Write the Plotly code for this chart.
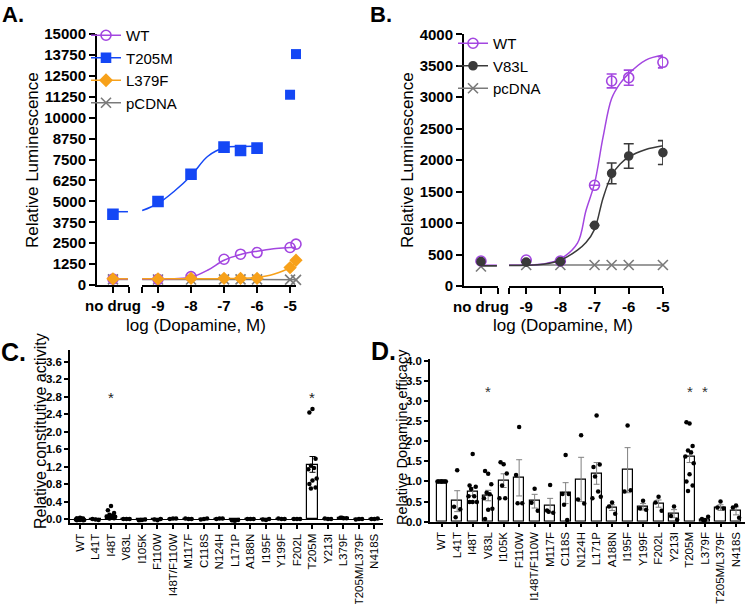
import plotly.graph_objects as go

W, H = 745, 604
def fx(px): return px / W
def fy(py): return 1 - py / H

FONT = "Liberation Sans, Arial, sans-serif"
PURPLE = "#A346E0"
BLUE = "#1447F5"
ORANGE = "#F7A11A"
GRAY = "#7A7A7A"
DARK = "#3A3A3A"

# ---------------- Panel A data ----------------
A_conc = [-9, -8, -7, -6.5, -6, -5, -4.82]
A_wt = [340, 500, 1540, 1840, 1940, 2240, 2440]
A_t205m = [4990, 6620, 8240, 8040, 8180, 11370, 13800]
A_l379f = [360, 400, 400, 400, 400, 1040, 1480]
A_pcdna = [330, 330, 340, 340, 340, 320, 310]
A_nd_wt, A_nd_t205m, A_nd_l379f, A_nd_pcdna = 360, 4230, 370, 340
A_base_wt, A_base_t205m, A_base_l379f, A_base_pcdna = 360, 4380, 370, 330
A_fit_wt_x = [-9.48, -9, -8.5, -8, -7.5, -7, -6.5, -6, -5.5, -5, -4.82]
A_fit_wt_y = [360, 360, 375, 460, 880, 1480, 1820, 2020, 2170, 2240, 2260]
A_fit_t205m_x = [-9.48, -9, -8.5, -8, -7.5, -7, -6.5, -5.9]
A_fit_t205m_y = [4450, 4870, 5620, 6530, 7680, 8200, 8280, 8290]
A_fit_l379f_x = [-9.48, -8, -7, -6.5, -6, -5.5, -5, -4.82]
A_fit_l379f_y = [370, 375, 380, 395, 450, 640, 1050, 1420]
A_fit_pcdna_x = [-9.48, -4.82]
A_fit_pcdna_y = [330, 320]
A_xticks = [-9, -8, -7, -6, -5]

# ---------------- Panel B data ----------------
B_conc = [-9, -8, -7, -6.5, -6, -5]
B_wt = [413, 397, 1600, 3258, 3311, 3555]
B_wt_err = [None, None, None, 110, 120, 88]
B_v83l = [380, 387, 964, 1790, 2066, 2120]
B_v83l_err = [None, None, None, 165, 195, 190]
B_pcdna = [334, 334, 334, 334, 334, 334]
B_nd_wt, B_nd_v83l, B_nd_pcdna = 397, 387, 310
B_base_wt, B_base_v83l, B_base_pcdna = 330, 322, 318
B_fit_wt_x = [-9.5, -9, -8.5, -8, -7.5, -7.25, -7, -6.75, -6.5, -6.25, -6, -5.5, -5]
B_fit_wt_y = [330, 333, 350, 430, 680, 1200, 1630, 2370, 2980, 3220, 3375, 3590, 3670]
B_fit_v83l_x = [-9.5, -9, -8.5, -8, -7.5, -7.25, -7, -6.75, -6.5, -6.25, -6, -5.5, -5]
B_fit_v83l_y = [325, 328, 345, 410, 570, 690, 900, 1400, 1760, 1940, 2050, 2170, 2230]
B_fit_pcdna_x = [-9.5, -5]
B_fit_pcdna_y = [334, 334]
B_xticks = [-9, -8, -7, -6, -5]

# ---------------- Panel C data ----------------
C_cats = ["WT", "L41T", "I48T", "V83L", "I105K", "F110W", "I48T/F110W", "M117F", "C118S",
          "N124H", "L171P", "A188N", "I195F", "Y199F", "F202L", "T205M", "Y213I", "L379F",
          "T205M/L379F", "N418S"]
C_mean = [0.0, -0.01, 0.07, 0.0, -0.02, -0.01, 0.01, 0.0, 0.0, 0.01, -0.03, 0.0, -0.01, 0.0,
          0.0, 1.25, 0.0, 0.02, 0.0, 0.0]
C_sem = [0.005, 0.01, 0.03, None, 0.01, 0.01, None, None, None, None, 0.01, None, 0.01, None,
         None, 0.18, None, 0.01, None, None]
C_points = [
    [0.03, 0.02, 0.01, 0.0, 0.0, -0.01, -0.02, -0.02, -0.03, -0.03, -0.01, 0.01],
    [-0.01, 0.0, -0.02],
    [0.30, 0.20, 0.14, 0.10, 0.08, 0.06, 0.05, 0.04, 0.03, 0.02, 0.01],
    [0.0, 0.0, 0.0],
    [-0.02, -0.03, -0.01, -0.02],
    [-0.03, -0.01, 0.0],
    [0.01, 0.0, 0.01],
    [0.0, 0.01, 0.0],
    [0.0, -0.01, 0.01],
    [0.01, 0.0, 0.01],
    [-0.04, -0.03, -0.02, -0.03],
    [0.0, 0.0, 0.0],
    [-0.02, -0.01, 0.0],
    [0.0, 0.01, 0.0],
    [0.0, 0.0, 0.0],
    [2.52, 2.44, 1.38, 1.22, 1.17, 1.14, 0.93, 0.88, 0.80, 0.72, 0.70],
    [0.0, 0.01, 0.0],
    [0.02, 0.03, 0.02, 0.03],
    [0.0, -0.01, 0.0],
    [0.0, 0.0, 0.01],
]
C_star_cats = [2, 15]
C_star_y = 2.84

# ---------------- Panel D data ----------------
D_cats = ["WT", "L41T", "I48T", "V83L", "I105K", "F110W", "I148T/F110W", "M117F", "C118S",
          "N124H", "L171P", "A188N", "I195F", "Y199F", "F202L", "Y213I", "T205M", "L379F",
          "T205M/L379F", "N418S"]
D_mean = [1.0, 0.51, 0.75, 0.65, 1.02, 1.09, 0.51, 0.40, 0.71, 1.05, 1.20, 0.35, 1.28, 0.37,
          0.45, 0.20, 1.62, 0.04, 0.35, 0.27]
D_sem = [None, 0.26, 0.10, 0.13, 0.17, 0.45, 0.17, 0.18, 0.26, 0.55, 0.27, 0.07, 0.56, 0.08,
         0.09, 0.10, 0.15, 0.02, 0.07, 0.10]
D_points = [
    [1.0, 1.0, 1.0, 1.0, 1.0, 1.0, 1.0, 1.0],
    [1.28, 0.37, 0.31, 0.11],
    [1.68, 0.90, 0.87, 0.81, 0.63, 0.63, 0.49, 0.49, 0.49],
    [1.19, 1.26, 0.93, 0.72, 0.68, 0.58, 0.32, 0.30, 0.07],
    [1.43, 1.48, 1.20, 0.90, 0.58, 0.58],
    [2.35, 1.16, 0.46, 0.46],
    [0.82, 0.47, 0.27],
    [0.91, 0.28, 0.22, 0.25],
    [1.66, 0.69, 0.69, 0.42, 0.04],
    [2.15, 0.55, 0.45],
    [2.64, 1.36, 1.42, 1.12, 0.75, 0.58, 0.62],
    [0.48, 0.38, 0.20],
    [2.39, 0.75, 0.78],
    [0.52, 0.33, 0.30],
    [0.62, 0.48, 0.27],
    [0.38, 0.14, 0.05],
    [2.44, 2.47, 1.88, 1.77, 1.72, 1.62, 1.45, 1.18, 1.00, 0.90, 0.76],
    [0.04, 0.07, 0.12, 0.03],
    [0.50, 0.35, 0.33],
    [0.40, 0.35, 0.10],
]
D_star_cats = [3, 16, 17]
D_star_y = 3.3

# ---------------- figure ----------------
fig = go.Figure()
ND_LINE_X = [0, 0.47]


def legend_entry(name, color, symbol, size, legend, xa, ya):
    fig.add_trace(go.Scatter(
        x=[None], y=[None], xaxis=xa, yaxis=ya, mode="lines+markers", name=name,
        line=dict(color=color, width=1.5),
        marker=dict(symbol=symbol, size=size, color=color, line=dict(color=color, width=1.6)),
        legend=legend, showlegend=True))


def add_series(xl, xr, ya, conc, vals, nd, fitx, fity, base, color, symbol, size,
               err=None, errcolor=None):
    fig.add_trace(go.Scatter(x=fitx, y=fity, xaxis=xr, yaxis=ya, mode="lines",
                             line=dict(color=color, width=1.5, shape="spline", smoothing=1.0),
                             showlegend=False, cliponaxis=False, hoverinfo="skip"))
    fig.add_trace(go.Scatter(x=ND_LINE_X, y=[base, base], xaxis=xl, yaxis=ya, mode="lines",
                             line=dict(color=color, width=1.5), showlegend=False,
                             cliponaxis=False, hoverinfo="skip"))
    mk = dict(symbol=symbol, size=size, color=color, line=dict(color=color, width=1.6))
    ey = None
    if err is not None:
        ey = dict(type="data", array=err, color=errcolor or color, thickness=1.6, width=5)
    fig.add_trace(go.Scatter(x=conc, y=vals, xaxis=xr, yaxis=ya, mode="markers", marker=mk,
                             error_y=ey, showlegend=False, cliponaxis=False))
    fig.add_trace(go.Scatter(x=[0], y=[nd], xaxis=xl, yaxis=ya, mode="markers", marker=mk,
                             showlegend=False, cliponaxis=False))


# legend entries A
legend_entry("WT", PURPLE, "circle-open", 10, "legend", "x2", "y")
legend_entry("T205M", BLUE, "square", 9, "legend", "x2", "y")
legend_entry("L379F", ORANGE, "diamond", 9, "legend", "x2", "y")
legend_entry("pCDNA", GRAY, "x-thin-open", 10, "legend", "x2", "y")
# legend entries B
legend_entry("WT", PURPLE, "circle-open", 10, "legend2", "x4", "y2")
legend_entry("V83L", DARK, "circle", 8, "legend2", "x4", "y2")
legend_entry("pcDNA", GRAY, "x-thin-open", 10, "legend2", "x4", "y2")

# Panel A series
add_series("x", "x2", "y", A_conc, A_pcdna, A_nd_pcdna, A_fit_pcdna_x, A_fit_pcdna_y,
           A_base_pcdna, GRAY, "x-thin-open", 10)
add_series("x", "x2", "y", A_conc, A_wt, A_nd_wt, A_fit_wt_x, A_fit_wt_y,
           A_base_wt, PURPLE, "circle-open", 10)
add_series("x", "x2", "y", A_conc, A_l379f, A_nd_l379f, A_fit_l379f_x, A_fit_l379f_y,
           A_base_l379f, ORANGE, "diamond", 8.5)
add_series("x", "x2", "y", A_conc[:5], A_t205m[:5], A_nd_t205m, A_fit_t205m_x, A_fit_t205m_y,
           A_base_t205m, BLUE, "square", 10)
fig.add_trace(go.Scatter(x=A_conc[5:], y=A_t205m[5:], xaxis="x2", yaxis="y", mode="markers",
                         marker=dict(symbol="square", size=10, color=BLUE), showlegend=False,
                         cliponaxis=False))

# Panel B series
add_series("x3", "x4", "y2", B_conc, B_pcdna, B_nd_pcdna, B_fit_pcdna_x, B_fit_pcdna_y,
           B_base_pcdna, GRAY, "x-thin-open", 10)
add_series("x3", "x4", "y2", B_conc, B_wt, B_nd_wt, B_fit_wt_x, B_fit_wt_y,
           B_base_wt, PURPLE, "circle-open", 10, err=B_wt_err)
add_series("x3", "x4", "y2", B_conc, B_v83l, B_nd_v83l, B_fit_v83l_x, B_fit_v83l_y,
           B_base_v83l, DARK, "circle", 8, err=B_v83l_err)

# Panels C and D
JIT = [0.0, -0.2, 0.2, -0.1, 0.1, -0.27, 0.27]


def jitter(points):
    xs, ys = [], []
    for i, pts in enumerate(points):
        for j, v in enumerate(pts):
            xs.append(i + JIT[j % len(JIT)])
            ys.append(v)
    return xs, ys


for cats, means, sems, pts, xa, ya, ecol in [
        (C_cats, C_mean, C_sem, C_points, "x5", "y3", "black"),
        (D_cats, D_mean, D_sem, D_points, "x6", "y4", "#808080")]:
    idx = list(range(len(cats)))
    fig.add_trace(go.Bar(x=idx, y=means, xaxis=xa, yaxis=ya, width=0.65,
                         marker=dict(color="white", line=dict(color="black", width=1.2)),
                         error_y=dict(type="data", array=sems, color=ecol, thickness=1, width=3),
                         showlegend=False))
    jx, jy = jitter(pts)
    fig.add_trace(go.Scatter(x=jx, y=jy, xaxis=xa, yaxis=ya, mode="markers",
                             marker=dict(symbol="circle", size=4.5, color="black"),
                             showlegend=False, cliponaxis=False))

# ---------------- axes ----------------
def axstyle(size=15, bold=True, lw=2):
    return dict(showline=True, linecolor="black", linewidth=lw, ticks="outside", ticklen=6,
                tickwidth=lw, tickcolor="black", showgrid=False, zeroline=False,
                automargin=False,
                tickfont=dict(family=FONT, size=size, color="black",
                              weight="bold" if bold else "normal"))

layout_axes = dict(
    xaxis=dict(domain=[fx(97), fx(129)], range=[-0.5, 0.503], anchor="y",
               tickvals=[0, 0.5], ticktext=["no drug", ""], **axstyle()),
    xaxis2=dict(domain=[fx(142), fx(296)], range=[-9.485, -4.82], anchor="y",
                tickvals=[-9.485] + A_xticks, ticktext=[""] + [str(v) for v in A_xticks],
                **axstyle()),
    yaxis=dict(domain=[fy(285), fy(34)], range=[0, 15000], anchor="x", tick0=0, dtick=1250,
               tickformat="d", **axstyle()),
    xaxis3=dict(domain=[fx(464), fx(498)], range=[-0.5, 0.503], anchor="y2",
                tickvals=[0, 0.5], ticktext=["no drug", ""], **axstyle()),
    xaxis4=dict(domain=[fx(509), fx(663)], range=[-9.503, -4.997], anchor="y2",
                tickvals=[-9.5] + B_xticks, ticktext=[""] + [str(v) for v in B_xticks],
                **axstyle()),
    yaxis2=dict(domain=[fy(286), fy(34.3)], range=[0, 4000], anchor="x3", tick0=0, dtick=500,
                tickformat="d", **axstyle()),
)
cx = axstyle(size=11.5, bold=False, lw=1.5)
cx.update(ticklen=4)
cy = axstyle(size=11.5, bold=True, lw=1.5)
cy.update(ticklen=4)
layout_axes.update(
    xaxis5=dict(domain=[fx(70), fx(383)], range=[-0.645, 19.55], anchor="y3",
                tickvals=list(range(len(C_cats))), ticktext=C_cats, tickangle=-90, **cx),
    yaxis3=dict(domain=[fy(523.4), fy(349.9)], range=[-0.1, 3.87], anchor="x5", tick0=0,
                dtick=0.4, tickformat=".1f", **cy),
    xaxis6=dict(domain=[fx(430), fx(745)], range=[-0.755, 19.58], anchor="y4",
                tickvals=list(range(len(D_cats))), ticktext=D_cats, tickangle=-90, **cx),
    yaxis4=dict(domain=[fy(521.7), fy(358.7)], range=[0, 4.05], anchor="x6", tick0=0,
                dtick=0.5, tickformat=".1f", **cy),
)
layout_axes["yaxis3"].update(zeroline=True, zerolinecolor="black", zerolinewidth=1.2)

# ---------------- annotations ----------------
ann = []
def txt(x, y, s, size, bold=False, angle=0, xanchor="center", color="black"):
    ann.append(dict(x=fx(x), y=fy(y), xref="paper", yref="paper", text=s, showarrow=False,
                    textangle=angle, xanchor=xanchor, yanchor="middle",
                    font=dict(family=FONT, size=size, color=color,
                              weight="bold" if bold else "normal")))

txt(0, 15, "A.", 22, bold=True, xanchor="left")
txt(368, 15, "B.", 22, bold=True, xanchor="left")
txt(-1, 352, "C.", 25, bold=True, xanchor="left")
txt(369, 351, "D.", 25, bold=True, xanchor="left")
txt(32, 160, "Relative Luminescence", 17, angle=-90)
txt(407, 160, "Relative Luminescence", 17, angle=-90)
txt(196, 325, "log (Dopamine, M)", 17)
txt(563, 325, "log (Dopamine, M)", 17)
txt(40, 431, "Relative constitutive activity", 16, angle=-90)
txt(402, 437, "Relative Dopamine efficacy", 14.5, angle=-90)

for c in C_star_cats:
    ann.append(dict(x=c, y=C_star_y, xref="x5", yref="y3", text="*", showarrow=False,
                    yshift=-3, font=dict(family=FONT, size=15, color="#222")))
for c in D_star_cats:
    ann.append(dict(x=c, y=D_star_y, xref="x6", yref="y4", text="*", showarrow=False,
                    yshift=-3, font=dict(family=FONT, size=15, color="#333")))

legend_style = dict(xanchor="left", yanchor="top", bgcolor="rgba(0,0,0,0)",
                    font=dict(family=FONT, size=15, color="black"), itemwidth=30,
                    borderwidth=0)

fig.update_layout(
    template="none",
    width=W, height=H, autosize=False,
    margin=dict(l=0, r=0, t=0, b=0, pad=0),
    paper_bgcolor="white", plot_bgcolor="white",
    annotations=ann,
    legend=dict(x=fx(86), y=fy(19), **legend_style),
    legend2=dict(x=fx(453), y=fy(27), **legend_style),
    bargap=0, barmode="overlay",
    **layout_axes,
)

fig.write_html("out.html", config={"displayModeBar": False},
               post_script="document.body.style.margin='0px';document.body.style.padding='0px';")
